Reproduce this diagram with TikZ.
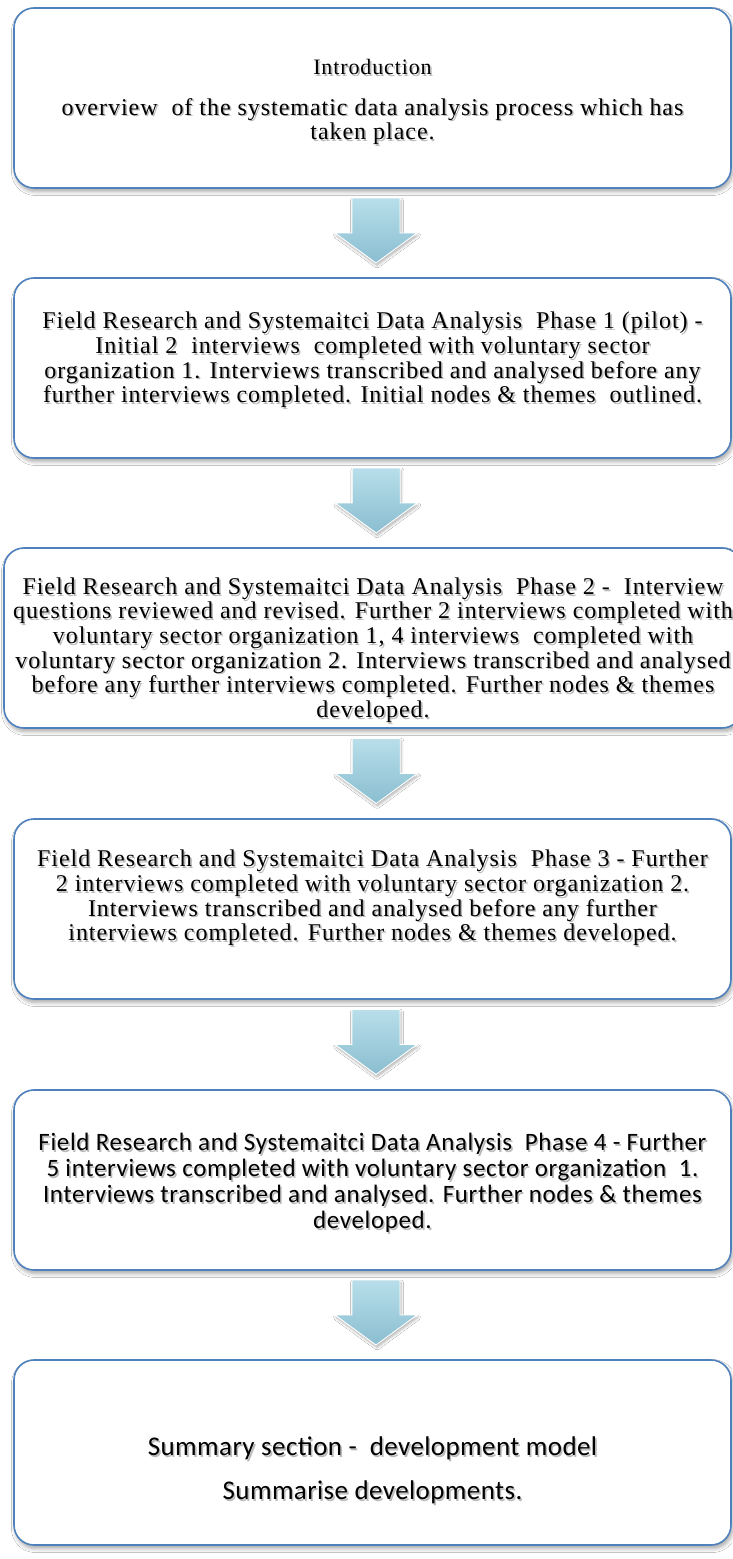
\documentclass[tikz,border=0pt]{standalone}
\usepackage{fontspec}
\setmainfont{Liberation Serif}[LetterSpace=4]
\newfontfamily\calibfont{Carlito}[LetterSpace=2.5]
\usetikzlibrary{calc,shadows.blur}

\definecolor{boxblue}{RGB}{79,129,189}
\definecolor{arrowtop}{RGB}{184,222,234}
\definecolor{arrowbot}{RGB}{138,190,208}

\tikzset{
  flowbox/.style={draw=boxblue, line width=1.6pt, rounded corners=20pt,
    fill=white, inner sep=0pt,
    blur shadow={shadow xshift=1.5pt, shadow yshift=-3.5pt,
      shadow blur steps=6, shadow blur radius=4pt, shadow opacity=35}},
  boxtext/.style={align=center, inner sep=0pt, text=black},
  textshade/.style={text=black!60, opacity=0.45},
  serifbody/.style={boxtext, font=\fontsize{24}{24.6}\selectfont},
  sansbody/.style={boxtext, font=\calibfont\fontsize{25}{25.8}\selectfont},
  sanslarge/.style={boxtext, font=\calibfont\fontsize{27}{30}\selectfont\addfontfeatures{LetterSpace=1.5}},
  arrowbody/.style={top color=arrowtop, bottom color=arrowbot,
    draw=white, line width=0.9pt, line join=miter,
    blur shadow={shadow xshift=1pt, shadow yshift=-2.5pt,
      shadow blur steps=5, shadow blur radius=2.5pt, shadow opacity=30}}
}

% text with a soft drop shadow
\newcommand\shadedlabel[4]{%
  \node[#2, textshade] at ($(#3)+(1.6,1.8)$) {#4};
  \node[#2] (#1) at (#3) {#4};
}

% block arrow between two stacked boxes
\newcommand\flowarrow[2]{%
  \path[arrowbody] let \p1=($(#1.south)!0.5!(#2.north)$) in
    (\x1-20.5pt,\y1+35pt) -- (\x1+27.5pt,\y1+35pt) -- (\x1+27.5pt,\y1)
    -- (\x1+44.5pt,\y1) -- (\x1+3.5pt,\y1-30pt) -- (\x1-37.5pt,\y1)
    -- (\x1-20.5pt,\y1) -- cycle;
}

\begin{document}
\begin{tikzpicture}[x=1pt, y=-1pt]
\useasboundingbox (0,0) rectangle (732,1559);
\fill[white] (0,0) rectangle (732,1559);

\node[flowbox, minimum width=717pt, minimum height=180pt] (b1) at (372.5,98) {};
\node[flowbox, minimum width=717pt, minimum height=180pt] (b2) at (372.5,368) {};
\node[flowbox, minimum width=738pt, minimum height=180pt] (b3) at (373,638) {};
\node[flowbox, minimum width=717pt, minimum height=180pt] (b4) at (372.5,909) {};
\node[flowbox, minimum width=717pt, minimum height=180pt] (b5) at (372.5,1180) {};
\node[flowbox, minimum width=717pt, minimum height=185pt] (b6) at (372.5,1452.5) {};

\flowarrow{b1}{b2}
\flowarrow{b2}{b3}
\flowarrow{b3}{b4}
\flowarrow{b4}{b5}
\flowarrow{b5}{b6}

\coordinate (c1) at ($(b1.center)+(0,4)$);
\shadedlabel{t1}{serifbody}{c1}{{\fontsize{22}{24}\selectfont Introduction}\\[16pt]
overview \ of the systematic data analysis process which has\\
taken place.}

\coordinate (c2) at ($(b2.center)+(0,-8)$);
\shadedlabel{t2}{serifbody}{c2}{Field Research and Systemaitci Data Analysis \ Phase 1 (pilot) -\\
Initial 2 \ interviews \ completed with voluntary sector\\
organization 1. Interviews transcribed and analysed before any\\
further interviews completed. Initial nodes \& themes \ outlined.}

\coordinate (c3) at ($(b3.center)+(0,12)$);
\shadedlabel{t3}{serifbody}{c3}{Field Research and Systemaitci Data Analysis \ Phase 2 - \ Interview\\
questions reviewed and revised. Further 2 interviews completed with\\
voluntary sector organization 1, 4 interviews \ completed with\\
voluntary sector organization 2. Interviews transcribed and analysed\\
before any further interviews completed. Further nodes \& themes\\
developed.}

\coordinate (c4) at ($(b4.center)+(0,-11)$);
\shadedlabel{t4}{serifbody}{c4}{Field Research and Systemaitci Data Analysis \ Phase 3 - Further\\
2 interviews completed with voluntary sector organization 2.\\
Interviews transcribed and analysed before any further\\
interviews completed. Further nodes \& themes developed.}

\coordinate (c5) at ($(b5.center)+(0,3)$);
\shadedlabel{t5}{sansbody}{c5}{Field Research and Systemaitci Data Analysis \ Phase 4 - Further\\
5 interviews completed with voluntary sector organization \ 1.\\
Interviews transcribed and analysed. Further nodes \& themes\\
developed.}

\coordinate (c6) at ($(b6.center)+(0,18)$);
\shadedlabel{t6}{sanslarge}{c6}{Summary section - \ development model\\[14pt]
Summarise developments.}
\end{tikzpicture}
\end{document}
